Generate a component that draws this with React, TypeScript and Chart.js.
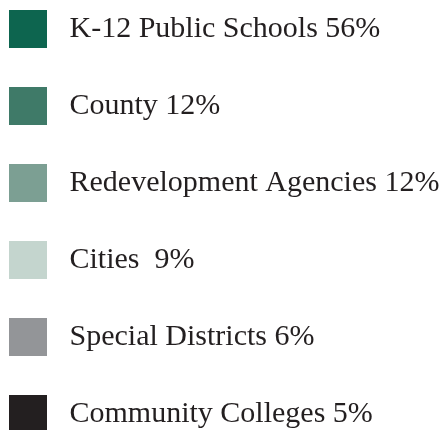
import React, { useEffect, useRef } from "react";
import { Chart, registerables } from "chart.js";

Chart.register(...registerables);

const labels = [
  "K-12 Public Schools 56%",
  "County 12%",
  "Redevelopment Agencies 12%",
  "Cities  9%",
  "Special Districts 6%",
  "Community Colleges 5%",
];
const values = [56, 12, 12, 9, 6, 5];
const colors = ["#0d654f", "#3f7a68", "#7c9f93", "#c4d5ce", "#939598", "#231f20"];

export default function App() {
  const ref = useRef<HTMLCanvasElement | null>(null);
  useEffect(() => {
    if (!ref.current) return;
    const chart = new Chart(ref.current, {
      type: "pie",
      data: {
        labels,
        datasets: [{ data: values, backgroundColor: colors, borderWidth: 0 }],
      },
      options: {
        animation: false,
        responsive: false,
        devicePixelRatio: 1,
        plugins: {
          tooltip: { enabled: false },
          legend: {
            position: "top",
            align: "start",
            labels: {
              boxWidth: 38,
              boxHeight: 38,
              padding: 39,
              color: "#231f20",
              font: { family: "'Liberation Serif', serif", size: 30 },
              generateLabels: (c: any) =>
                (Chart as any).overrides.pie.plugins.legend.labels
                  .generateLabels(c)
                  .map((l: any, i: number) => ({
                    ...l,
                    text: " " + l.text,
                    fillStyle: colors[i],
                    strokeStyle: "rgba(0,0,0,0)",
                    lineWidth: 0,
                  })),
            },
          },
        },
      },
    });
    return () => chart.destroy();
  }, []);
  return (
    <div
      style={{
        position: "fixed",
        left: 0,
        top: 0,
        width: 448,
        height: 430,
        overflow: "hidden",
        background: "#fff",
      }}
    >
      <div style={{ position: "absolute", left: -30, top: -29 }}>
        <canvas ref={ref} width={478} height={1000} style={{ display: "block" }} />
      </div>
    </div>
  );
}
